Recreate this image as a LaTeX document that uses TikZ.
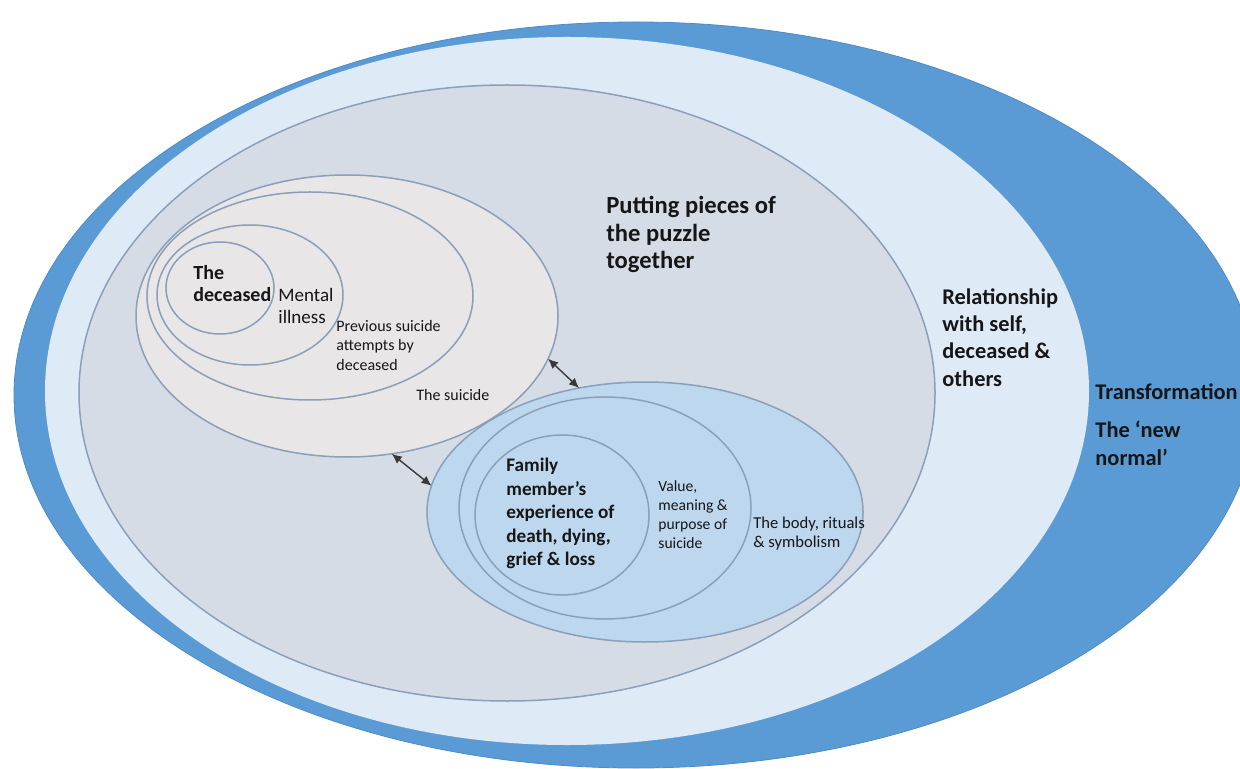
\documentclass[tikz,border=0pt]{standalone}
\usepackage{fontspec}
\setmainfont{Carlito}
\usetikzlibrary{shapes,positioning,arrows.meta}

\definecolor{ringblue}{HTML}{5B9BD5}
\definecolor{ringedge}{HTML}{4E8BC8}
\definecolor{paleblue}{HTML}{DEEBF7}
\definecolor{zonegray}{HTML}{D6DCE5}
\definecolor{deadgray}{HTML}{E8E6E6}
\definecolor{familyblue}{HTML}{BDD7EE}
\definecolor{linegray}{HTML}{8A9FBA}
\definecolor{inkdark}{HTML}{161616}

\begin{document}
\begin{tikzpicture}[
    x=0.5pt, y=-0.5pt,
    zone/.style = {ellipse, inner sep=0pt, outer sep=0pt},
    ring/.style = {zone, draw=linegray, line width=0.75pt},
    bigtext/.style = {anchor=north west, inner sep=0pt, align=left, text=inkdark, font=\fontsize{11.2}{13.7}\selectfont\bfseries},
    midtext/.style = {anchor=north west, inner sep=0pt, align=left, text=inkdark, font=\fontsize{9.5}{11.2}\selectfont},
    smalltext/.style = {anchor=north west, inner sep=0pt, align=left, text=inkdark, font=\fontsize{8}{9.7}\selectfont},
    link/.style = {{Latex[length=5pt,width=4.5pt]}-{Latex[length=5pt,width=4.5pt]}, draw=inkdark!85, line width=0.7pt}
    ]
    \useasboundingbox (0,0) rectangle (1240,769);
    \fill[white] (0,0) rectangle (1240,769);

    % outer rings
    \node[zone, fill=ringblue, draw=ringedge, line width=0.4pt, minimum width=622pt, minimum height=373pt] (transform) at (636,395) {};
    \node[zone, fill=paleblue, minimum width=522pt, minimum height=354pt] (relation) at (567,391) {};
    \node[ring, fill=zonegray, minimum width=428pt, minimum height=308pt] (puzzle) at (507,393) {};

    % the deceased side
    \node[ring, fill=deadgray, minimum width=211pt, minimum height=141pt] (suicide) at (347,316) {};
    \node[ring, fill=deadgray, minimum width=163pt, minimum height=104pt] (attempts) at (310,296) {};
    \node[ring, fill=deadgray, minimum width=93pt, minimum height=70pt] (illness) at (250,295) {};
    \node[ring, fill=deadgray, minimum width=54pt, minimum height=46pt] (deceased) at (220,288) {};

    % the family side
    \node[ring, fill=familyblue, minimum width=218pt, minimum height=130pt] (body) at (645,512) {};
    \node[ring, fill=familyblue, minimum width=146pt, minimum height=111pt] (value) at (605,508) {};
    \node[ring, fill=familyblue, minimum width=87pt, minimum height=80pt] (family) at (562,515) {};

    % texts
    \node[bigtext, font=\fontsize{12.3}{13.8}\selectfont\bfseries] (puzzle-txt) at (606,196) {Putting pieces of\\the puzzle\\together};
    \node[bigtext] (relation-txt) at (942,288) {Relationship\\with self,\\deceased \&\\others};
    \node[bigtext] (transform-txt) at (1095,383) {Transformation};
    \node[bigtext] (normal-txt) at (1095,421) {The `new\\normal'};
    \node[midtext, font=\fontsize{10}{11}\selectfont\bfseries] (deceased-txt) at (193,265) {The\\deceased};
    \node[midtext] (illness-txt) at (278,288) {Mental\\illness};
    \node[smalltext] (attempts-txt) at (336,320) {Previous suicide\\attempts by\\deceased};
    \node[smalltext] (suicide-txt) at (416,389) {The suicide};
    \node[midtext, font=\fontsize{9.6}{11.7}\selectfont\bfseries] (family-txt) at (506,458) {Family\\member's\\experience of\\death, dying,\\grief \& loss};
    \node[smalltext, font=\fontsize{7.8}{9.6}\selectfont] (value-txt) at (658,480) {Value,\\meaning \&\\purpose of\\suicide};
    \node[smalltext, font=\fontsize{8.3}{9.3}\selectfont] (body-txt) at (753,517) {The body, rituals\\\& symbolism};

    \draw[link] (suicide.-12) -- (body.118);
    \draw[link] (suicide.-72) -- (body.173);
\end{tikzpicture}
\end{document}
